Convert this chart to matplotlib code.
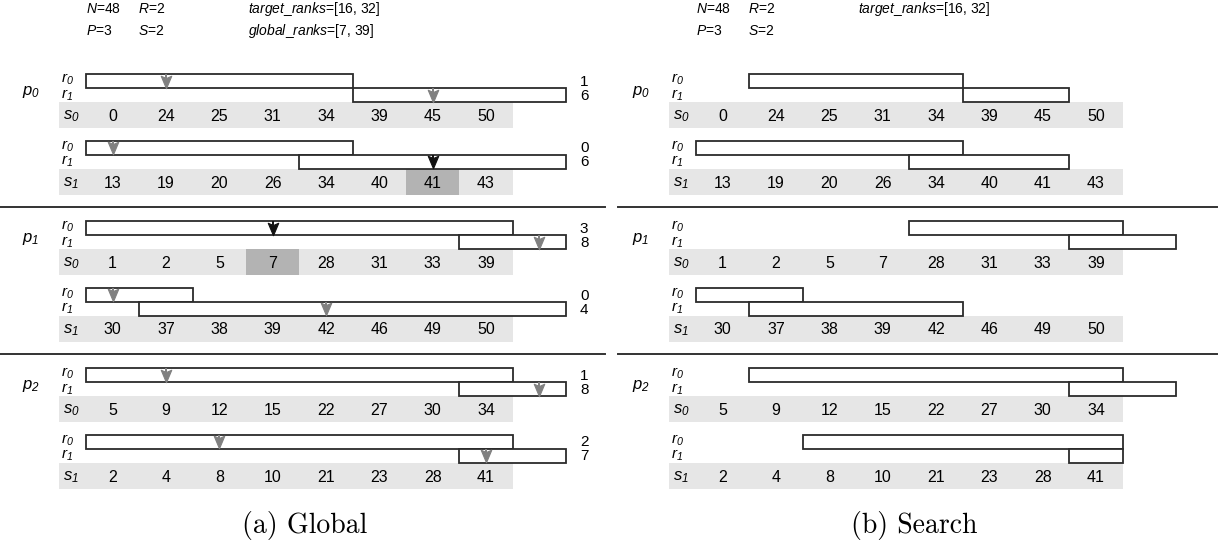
import matplotlib.pyplot as plt
from matplotlib.path import Path
from matplotlib.patches import Rectangle

plt.rcParams['font.family'] = ['Liberation Sans', 'DejaVu Sans']
plt.rcParams['mathtext.fontset'] = 'custom'
plt.rcParams['mathtext.it'] = 'Liberation Sans:italic'
plt.rcParams['mathtext.rm'] = 'Liberation Sans:italic'

# PARAMETROS
N, R, P, S = 48, 2, 3, 2
target_ranks = [16, 32]
global_ranks = [7, 39]

# amostras ordenadas de cada processador (s0, s1)
p0_samples = [[0, 24, 25, 31, 34, 39, 45, 50], [13, 19, 20, 26, 34, 40, 41, 43]]
p1_samples = [[1, 2, 5, 7, 28, 31, 33, 39], [30, 37, 38, 39, 42, 46, 49, 50]]
p2_samples = [[5, 9, 12, 15, 22, 27, 30, 34], [2, 4, 8, 10, 21, 23, 28, 41]]
samples = [p0_samples, p1_samples, p2_samples]

# (a) Global: intervalos [inicio, fim) de r0 e r1 em cada amostra
global_r0 = [[(0, 5), (0, 5)], [(0, 8), (0, 2)], [(0, 8), (0, 8)]]
global_r1 = [[(5, 9), (4, 9)], [(7, 9), (1, 9)], [(7, 9), (7, 9)]]
# posicao da seta (tambem o numero escrito a direita)
global_pos_r0 = [[1, 0], [3, 0], [1, 2]]
global_pos_r1 = [[6, 6], [8, 4], [8, 7]]
# (p, s, r) onde o rank global foi encontrado
global_hits = [(0, 1, 1), (1, 0, 0)]

# (b) Search
search_r0 = [[(1, 5), (0, 5)], [(4, 8), (0, 2)], [(1, 8), (2, 8)]]
search_r1 = [[(5, 7), (4, 7)], [(7, 9), (1, 5)], [(7, 9), (7, 8)]]

# layout (y em pixeis, x em colunas)
P_TOP, P_STEP, S_STEP = 74, 147, 66.5
BOX_H, ROW_H = 14, 26
GREY, DARK, EDGE = '#e6e6e6', '#b3b3b3', '#2b2b2b'
ARROW_GREY = '#808080'

head = Path([(0, -0.5), (-0.42, 0.5), (0, 0.32), (0.42, 0.5), (0, -0.5)],
            [Path.MOVETO, Path.LINETO, Path.LINETO, Path.LINETO, Path.CLOSEPOLY])


def draw_panel(ax, r0_rng, r1_rng, header, caption, pos_r0=None, pos_r1=None, hits=()):
    ax.set_xlim(-1.6125, 9.825)
    ax.set_ylim(552, 0)
    ax.axis('off')
    right = caption.startswith('(b')

    #cabecalho
    for i, line in enumerate(header):
        for x, txt in zip([0.0, 0.98, 3.04], line):
            ax.text(x, 9 + 22 * i, txt, ha='left', va='center', fontsize=10)

    for p in range(3):
        top = P_TOP + p * P_STEP
        if p > 0:
            ax.axhline(top - 14, xmin=0.013 if right else 0.0,
                       xmax=0.995 if right else 0.992, color='#333333', lw=1.4)
        ax.text(-1.2, top + 18, f'$p_{p}$', ha='left', va='center', fontsize=12)
        for s in range(2):
            g = top + s * S_STEP
            vals = samples[p][s]
            row_top = g + 2 * BOX_H
            ax.add_patch(Rectangle((-0.5, row_top), len(vals) + 0.5, ROW_H,
                                   fc=GREY, ec='none', zorder=3))
            ax.text(-0.44, row_top + ROW_H / 2 + 1.5, f'$s_{s}$', ha='left', va='center',
                    fontsize=12, zorder=6)
            for c, v in enumerate(vals):
                ax.text(c + 0.5, row_top + ROW_H / 2 + 1.5, str(v), ha='center', va='center',
                        fontsize=11.5, zorder=6)
            for r, rng in enumerate([r0_rng[p][s], r1_rng[p][s]]):
                yb = g + r * BOX_H
                ax.text(-0.47, yb + (9 if r == 0 else 10.5), f'$r_{r}$', ha='left',
                        va='baseline', fontsize=11, zorder=2)
                a, b = rng
                ax.add_patch(Rectangle((a, yb), b - a, BOX_H, fc='white', ec=EDGE,
                                       lw=1.3, zorder=4))
                if pos_r0 is None:
                    continue
                c = [pos_r0, pos_r1][r][p][s]
                hit = (p, s, r) in hits
                col = '#111111' if hit else ARROW_GREY
                if hit:
                    ax.add_patch(Rectangle((c, row_top), 1, ROW_H, fc=DARK, ec='none',
                                           zorder=3.5))
                ax.plot([c + 0.5, c + 0.5], [yb, yb + 4], color=col, lw=1.4, zorder=5,
                        solid_capstyle='butt')
                ax.plot(c + 0.5, yb + 7.5, marker=head, ms=9, color=col, mfc=col, mec=col,
                        mew=0.8, ls='none', zorder=5)
                ax.text(9.34, yb + 8, str(c), ha='center', va='center', fontsize=11)

    ax.text(4.1, 526, caption, ha='center', va='center', fontfamily='cmr10', fontsize=20)


fig = plt.figure(figsize=(12.2, 5.52), dpi=100)
ax_a = fig.add_axes([0, 0, 0.5, 1])
ax_b = fig.add_axes([0.5, 0, 0.5, 1])

header_a = [[f'$N$={N}', f'$R$={R}', f'$target$_$ranks$={target_ranks}'],
            [f'$P$={P}', f'$S$={S}', f'$global$_$ranks$={global_ranks}']]
header_b = [[f'$N$={N}', f'$R$={R}', f'$target$_$ranks$={target_ranks}'],
            [f'$P$={P}', f'$S$={S}']]

draw_panel(ax_a, global_r0, global_r1, header_a, '(a) Global',
           global_pos_r0, global_pos_r1, global_hits)
draw_panel(ax_b, search_r0, search_r1, header_b, '(b) Search')

fig.savefig('out.png', dpi=100)
